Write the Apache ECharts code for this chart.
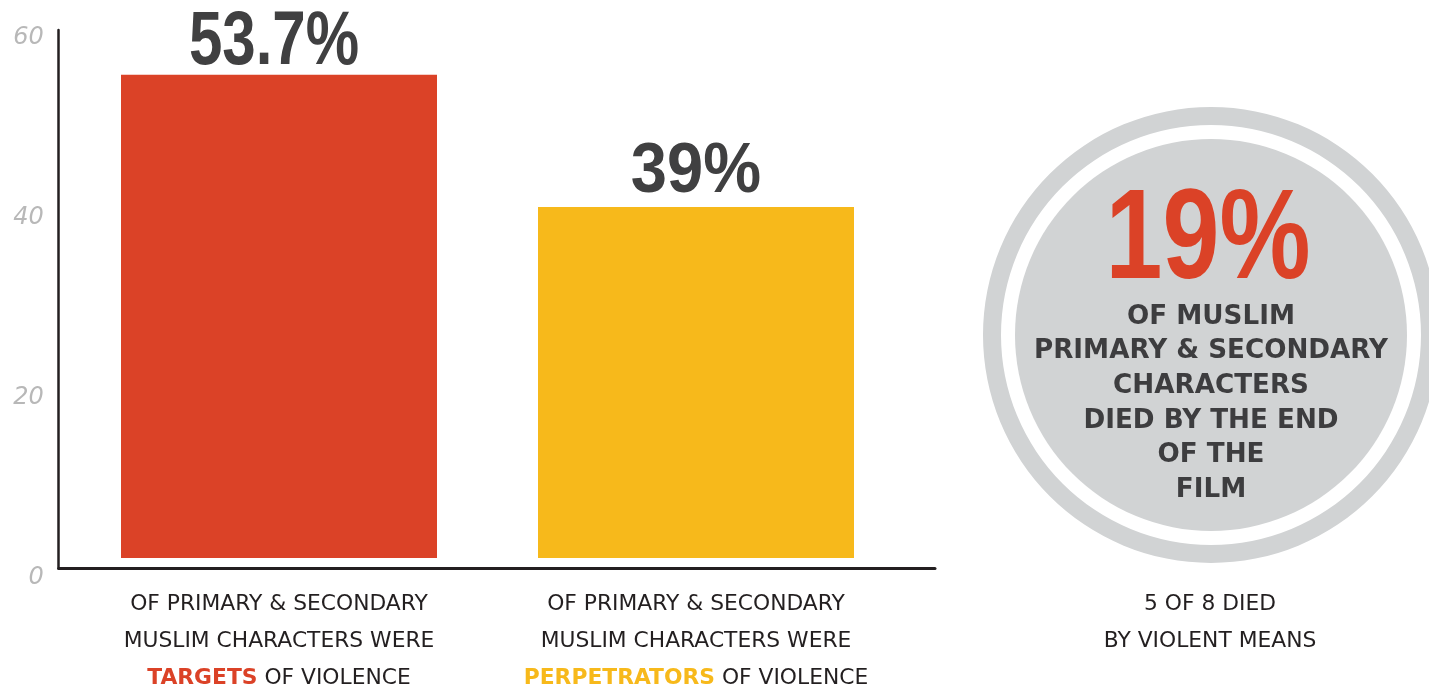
<!DOCTYPE html>
<html>
<head>
<meta charset="utf-8">
<script src="https://cdn.jsdelivr.net/npm/echarts@6/dist/echarts.min.js"></script>
<style>
  html, body { margin: 0; padding: 0; background: #ffffff; }
  #chart { width: 1429px; height: 687px; }
</style>
</head>
<body>
<div id="chart"></div>
<script>
// ---------- data ----------
const categoryLines = [
  ['OF PRIMARY & SECONDARY', 'MUSLIM CHARACTERS WERE', '{t|TARGETS} OF VIOLENCE'],
  ['OF PRIMARY & SECONDARY', 'MUSLIM CHARACTERS WERE', '{p|PERPETRATORS} OF VIOLENCE']
];
const barValues = [53.7, 39];
const barValueLabels = ['53.7%', '39%'];
const yTickValues = [0, 20, 40, 60];
const diedPercent = 19;
const diedTextLines = ['OF MUSLIM', 'PRIMARY & SECONDARY', 'CHARACTERS', 'DIED BY THE END', 'OF THE', 'FILM'];
const diedNoteLines = ['5 OF 8 DIED', 'BY VIOLENT MEANS'];

// ---------- styles ----------
const RED = '#db4227';
const YELLOW = '#f7b91b';
const DARK = '#404041';
const GRAY = '#d1d3d4';
const AXIS = '#231f20';
const BIGFONT = "'Liberation Sans', Arial, sans-serif";
const LABELFONT = "'DejaVu Sans', sans-serif";
const LABELSIZE = 21.8;
const barColors = [RED, YELLOW];
const labelSizes = [76, 70];
const labelScaleX = [0.79, 0.93];
const labelGaps = [31.5, 34.5];
const labelShiftX = [-5, 0];
const CX = 1211, CY = 335;

const chart = echarts.init(document.getElementById('chart'), null, { renderer: 'canvas' });

const option = {
  animation: false,
  backgroundColor: '#ffffff',
  grid: [
    { left: 58.7, right: 494, top: 30, bottom: 118.5, outerBoundsMode: 'none', containLabel: false },
    { left: 58.7, right: 494, top: 38, bottom: 109, outerBoundsMode: 'none', containLabel: false },
    { left: 70.5, right: 524.5, top: 18, bottom: 129, outerBoundsMode: 'none', containLabel: false }
  ],
  xAxis: [
    { gridIndex: 0, type: 'value', min: 0, max: 1,
      axisLine: { show: true, lineStyle: { color: AXIS, width: 3 } },
      axisTick: { show: false }, axisLabel: { show: false }, splitLine: { show: false } },
    { gridIndex: 1, type: 'value', min: 0, max: 1, show: false },
    { gridIndex: 2, type: 'category', data: categoryLines.map(l => l.join('\n')),
      axisLine: { show: false }, axisTick: { show: false }, splitLine: { show: false },
      axisLabel: {
        interval: 0, margin: 28, color: AXIS, fontFamily: LABELFONT, fontSize: LABELSIZE, lineHeight: 37,
        rich: {
          t: { color: RED, fontWeight: 'bold', fontFamily: LABELFONT, fontSize: LABELSIZE, lineHeight: 37 },
          p: { color: YELLOW, fontWeight: 'bold', fontFamily: LABELFONT, fontSize: LABELSIZE, lineHeight: 37 }
        }
      } }
  ],
  yAxis: [
    { gridIndex: 0, type: 'value', min: 0, max: 1,
      axisLine: { show: true, lineStyle: { color: AXIS, width: 2.5 } },
      axisTick: { show: false }, axisLabel: { show: false }, splitLine: { show: false } },
    { gridIndex: 1, type: 'value', min: yTickValues[0], max: yTickValues[yTickValues.length - 1],
      interval: yTickValues[1] - yTickValues[0],
      axisLine: { show: false }, axisTick: { show: false }, splitLine: { show: false },
      axisLabel: { margin: 15, color: '#b8b8b8', fontStyle: 'italic', fontWeight: 200,
        fontFamily: "'DejaVu Sans', sans-serif", fontSize: 24 } },
    { gridIndex: 2, type: 'value', min: yTickValues[0], max: yTickValues[yTickValues.length - 1],
      show: false }
  ],
  series: [
    {
      type: 'bar', xAxisIndex: 2, yAxisIndex: 2, barWidth: 316, silent: true,
      data: barValues.map((v, i) => ({ value: v, itemStyle: { color: barColors[i] } }))
    },
    {
      type: 'custom', xAxisIndex: 2, yAxisIndex: 2, silent: true, z: 5,
      data: barValues.map((v, i) => [i, v]),
      renderItem: (params, api) => {
        const i = params.dataIndex;
        const pt = api.coord([api.value(0), api.value(1)]);
        return {
          type: 'text', x: pt[0] + labelShiftX[i], y: pt[1] - labelGaps[i], scaleX: labelScaleX[i],
          style: {
            text: barValueLabels[i], align: 'center', verticalAlign: 'middle',
            fontFamily: BIGFONT, fontWeight: 'bold', fontSize: labelSizes[i], fill: DARK
          }
        };
      }
    },
    {
      type: 'pie', silent: true, center: [CX, CY], radius: [210, 228],
      label: { show: false }, labelLine: { show: false },
      itemStyle: { color: GRAY, borderWidth: 0 },
      data: [{ value: 1, name: 'ring' }]
    },
    {
      type: 'pie', silent: true, center: [CX, CY], radius: [0, 196],
      itemStyle: { color: GRAY, borderWidth: 0 },
      labelLine: { show: false },
      label: {
        show: true, position: 'center', padding: [137, 0, 0, 0],
        formatter: () => diedTextLines.map(s => '{b|' + s + '}').join('\n'),
        rich: {
          b: { fontFamily: "'DejaVu Sans', sans-serif", fontWeight: 'bold', fontSize: 26.2, lineHeight: 34.6, color: '#3d3d3f', align: 'center' }
        }
      },
      data: [{ value: diedPercent, name: 'died' }]
    }
  ],
  graphic: [
    {
      type: 'text', x: 1208, y: 243, scaleX: 0.8, silent: true, z: 10,
      style: {
        text: diedPercent + '%', align: 'center', verticalAlign: 'middle',
        fontFamily: BIGFONT, fontWeight: 'bold', fontSize: 128, fill: RED
      }
    },
    {
      type: 'text', x: 1210, y: 585.5, silent: true,
      style: {
        text: diedNoteLines.join('\n'), align: 'center', verticalAlign: 'top',
        fontFamily: LABELFONT, fontSize: LABELSIZE, lineHeight: 37, fill: AXIS
      }
    }
  ]
};

chart.setOption(option);
</script>
</body>
</html>
